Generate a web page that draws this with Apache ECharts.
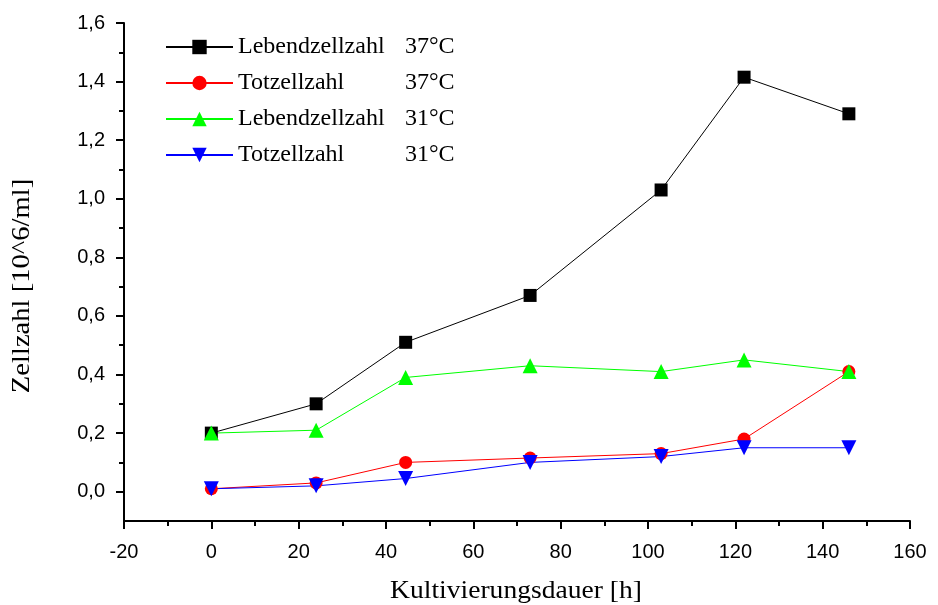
<!DOCTYPE html>
<html>
<head>
<meta charset="utf-8">
<script src="https://cdn.jsdelivr.net/npm/echarts@6/dist/echarts.min.js"></script>
<style>
  html, body { margin: 0; padding: 0; background: #fff; }
  #chart { width: 938px; height: 605px; }
</style>
</head>
<body>
<div id="chart"></div>
<script>
// Sampling times (hours of cultivation)
const hours = [0, 24, 44.5, 73, 103, 122, 146];

// Cell counts in 10^6 cells per ml
const live37 = [0.20, 0.30, 0.51, 0.67, 1.03, 1.415, 1.29];
const dead37 = [0.01, 0.03, 0.10, 0.115, 0.13, 0.18, 0.41];
const live31 = [0.20, 0.21, 0.39, 0.43, 0.41, 0.45, 0.41];
const dead31 = [0.01, 0.02, 0.045, 0.10, 0.12, 0.15, 0.15];

const seriesNames = ['Lebendzellzahl 37°C', 'Totzellzahl 37°C', 'Lebendzellzahl 31°C', 'Totzellzahl 31°C'];

// Tick positions
const yMajorTicks = [0, 0.2, 0.4, 0.6, 0.8, 1.0, 1.2, 1.4, 1.6];
const yMinorTicks = [0.1, 0.3, 0.5, 0.7, 0.9, 1.1, 1.3, 1.5];

const pairs = (xs, ys) => xs.map((x, i) => [x, ys[i]]);

const serif = 'Liberation Serif';
const sans = 'Liberation Sans';

const chart = echarts.init(document.getElementById('chart'), null, { renderer: 'canvas' });

function lineSeries(name, values, color, symbol, size, rotate) {
  return {
    name: name,
    type: 'line',
    yAxisIndex: 0,
    data: pairs(hours, values),
    symbol: symbol,
    symbolSize: size,
    symbolRotate: rotate || 0,
    showAllSymbol: true,
    lineStyle: { color: color, width: 1 },
    itemStyle: { color: color, borderWidth: 0 },
    emphasis: { disabled: true },
    animation: false
  };
}

const tickLine = { color: '#000', width: 2 };

// an unlabelled left axis that only carries a set of ticks
function tickAxis(values, length) {
  return {
    type: 'value',
    min: -0.1,
    max: 1.6,
    interval: 0.1,
    position: 'left',
    axisLine: { show: false, onZero: false },
    axisTick: { show: true, length: length, customValues: values, lineStyle: tickLine },
    splitLine: { show: false },
    axisLabel: { show: false }
  };
}

chart.setOption({
  backgroundColor: '#ffffff',
  animation: false,
  grid: { left: 124, right: 28, top: 23, bottom: 84 },
  legend: {
    left: 165,
    top: 35,
    padding: 0,
    orient: 'vertical',
    itemWidth: 67,
    itemHeight: 18,
    itemGap: 12,
    data: seriesNames,
    formatter: function (name) {
      const k = name.lastIndexOf(' ');
      return '{n|' + name.slice(0, k) + '}{t|' + name.slice(k + 1) + '}';
    },
    textStyle: {
      fontFamily: serif,
      fontSize: 24,
      color: '#000',
      rich: {
        n: { fontFamily: serif, fontSize: 24, color: '#000', width: 167, lineHeight: 26 },
        t: { fontFamily: serif, fontSize: 24, color: '#000', lineHeight: 26 }
      }
    }
  },
  xAxis: {
    type: 'value',
    min: -20,
    max: 160,
    interval: 20,
    axisLine: { show: true, onZero: false, lineStyle: tickLine },
    axisTick: { show: true, length: 8, lineStyle: tickLine },
    minorTick: { show: true, splitNumber: 2, length: 5, lineStyle: tickLine },
    splitLine: { show: false },
    axisLabel: {
      margin: 21,
      fontFamily: sans,
      fontSize: 20,
      color: '#000',
      formatter: v => String(v)
    }
  },
  yAxis: [
    {
      // labelled axis
      type: 'value',
      min: -0.1,
      max: 1.6,
      interval: 0.1,
      position: 'left',
      axisLine: { show: true, onZero: false, lineStyle: tickLine },
      axisTick: { show: false },
      splitLine: { show: false },
      axisLabel: {
        margin: 19,
        fontFamily: sans,
        fontSize: 20,
        color: '#000',
        customValues: yMajorTicks,
        formatter: v => v.toFixed(1).replace('.', ',')
      }
    },
    tickAxis(yMajorTicks, 8),
    tickAxis(yMinorTicks, 5)
  ],
  graphic: [
    {
      type: 'text',
      x: 22,
      y: 286,
      rotation: Math.PI / 2,
      scaleX: 1.1,
      style: {
        text: 'Zellzahl [10^6/ml]',
        fontFamily: serif,
        fontSize: 26,
        fill: '#000',
        align: 'center',
        verticalAlign: 'middle'
      }
    },
    {
      type: 'text',
      x: 516,
      y: 591,
      scaleX: 1.06,
      style: {
        text: 'Kultivierungsdauer [h]',
        fontFamily: serif,
        fontSize: 26,
        fill: '#000',
        align: 'center',
        verticalAlign: 'middle'
      }
    }
  ],
  series: [
    lineSeries(seriesNames[0], live37, '#000000', 'rect', 13),
    lineSeries(seriesNames[1], dead37, '#ff0000', 'circle', 13),
    lineSeries(seriesNames[2], live31, '#00ff00', 'triangle', 15),
    lineSeries(seriesNames[3], dead31, '#0000ff', 'triangle', 15, 180)
  ]
});
</script>
</body>
</html>
